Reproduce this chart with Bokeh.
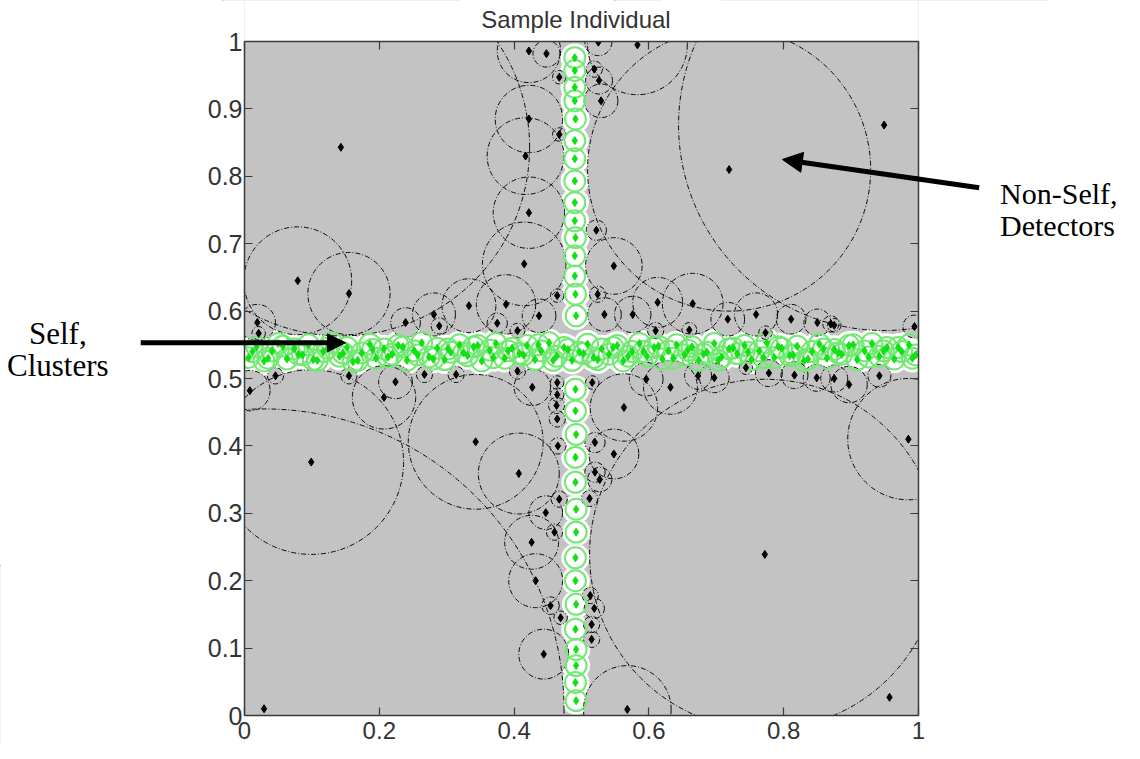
from bokeh.plotting import figure
from bokeh.models import (Range1d, LinearAxis, Label, Arrow, NormalHead,
                          FixedTicker, BoxAnnotation)
from bokeh.embed import file_html
from bokeh.resources import INLINE

# ---------------- data ----------------
x_ticks = [0, 0.2, 0.4, 0.6, 0.8, 1]
x_tick_labels = ["0", "0.2", "0.4", "0.6", "0.8", "1"]
y_ticks = [0, 0.1, 0.2, 0.3, 0.4, 0.5, 0.6, 0.7, 0.8, 0.9, 1]
y_tick_labels = ["0", "0.1", "0.2", "0.3", "0.4", "0.5", "0.6", "0.7", "0.8", "0.9", "1"]

# detectors (non-self): centre x, centre y, radius
det_x = [0.143, 0.079, 0.155, 0.019, 0.021, 0.239, 0.281, 0.289, 0.333, 0.388,
         0.375, 0.405, 0.437, 0.464, 0.415, 0.422, 0.417, 0.422, 0.467, 0.467,
         0.422, 0.448, 0.719, 0.949, 0.583, 0.525, 0.519, 0.526, 0.529, 0.522,
         0.548, 0.524, 0.534, 0.576, 0.613, 0.610, 0.665, 0.660, 0.717, 0.759,
         0.773, 0.811, 0.850, 0.870, 0.875, 0.994, 0.099, 0.029, 0.008, 0.046,
         0.155, 0.224, 0.207, 0.267, 0.314, 0.343, 0.407, 0.427, 0.405, 0.464,
         0.464, 0.463, 0.464, 0.465, 0.467, 0.447, 0.460, 0.426, 0.432, 0.454,
         0.469, 0.444, 0.516, 0.596, 0.632, 0.563, 0.673, 0.697, 0.744, 0.778,
         0.816, 0.849, 0.875, 0.897, 0.942, 0.985, 0.520, 0.548, 0.520, 0.527,
         0.512, 0.513, 0.519, 0.515, 0.515, 0.568, 0.957, 0.772]
det_y = [0.843, 0.645, 0.626, 0.583, 0.567, 0.583, 0.595, 0.578, 0.608, 0.610,
         0.582, 0.571, 0.593, 0.623, 0.670, 0.746, 0.830, 0.885, 0.862, 0.947,
         0.986, 0.982, 0.810, 0.876, 0.995, 0.999, 0.959, 0.942, 0.912, 0.720,
         0.667, 0.625, 0.595, 0.595, 0.613, 0.571, 0.611, 0.572, 0.588, 0.595,
         0.568, 0.588, 0.583, 0.581, 0.579, 0.577, 0.376, 0.010, 0.482, 0.504,
         0.504, 0.495, 0.472, 0.506, 0.506, 0.406, 0.359, 0.487, 0.511, 0.494,
         0.476, 0.460, 0.440, 0.400, 0.321, 0.301, 0.272, 0.257, 0.200, 0.163,
         0.145, 0.091, 0.494, 0.499, 0.487, 0.457, 0.504, 0.501, 0.516, 0.508,
         0.505, 0.501, 0.500, 0.491, 0.504, 0.410, 0.405, 0.388, 0.361, 0.350,
         0.322, 0.178, 0.159, 0.135, 0.113, 0.009, 0.027, 0.239]
det_r = [0.280, 0.080, 0.061, 0.027, 0.010, 0.022, 0.032, 0.012, 0.040, 0.044,
         0.015, 0.011, 0.025, 0.010, 0.062, 0.053, 0.057, 0.050, 0.010, 0.010,
         0.047, 0.020, 0.210, 0.305, 0.074, 0.020, 0.012, 0.020, 0.025, 0.015,
         0.042, 0.012, 0.025, 0.027, 0.037, 0.012, 0.045, 0.011, 0.025, 0.032,
         0.010, 0.022, 0.020, 0.012, 0.010, 0.017, 0.137, 0.445, 0.030, 0.012,
         0.012, 0.025, 0.047, 0.012, 0.012, 0.100, 0.060, 0.027, 0.012, 0.010,
         0.010, 0.012, 0.012, 0.012, 0.012, 0.025, 0.012, 0.040, 0.040, 0.013,
         0.010, 0.037, 0.010, 0.025, 0.040, 0.050, 0.020, 0.022, 0.010, 0.020,
         0.020, 0.020, 0.020, 0.027, 0.017, 0.090, 0.015, 0.037, 0.015, 0.018,
         0.012, 0.012, 0.015, 0.012, 0.012, 0.065, 0.000, 0.260]

# self samples, vertical cluster
self_v_x = [0.492, 0.491, 0.492, 0.492, 0.491, 0.492, 0.491, 0.491, 0.492, 0.492,
            0.491, 0.491, 0.492, 0.491, 0.491, 0.492, 0.491, 0.490, 0.490, 0.491,
            0.490, 0.490, 0.490, 0.490, 0.490, 0.491, 0.490, 0.490, 0.490, 0.490]
self_v_y = [0.022, 0.049, 0.074, 0.098, 0.128, 0.165, 0.200, 0.234, 0.272, 0.306,
            0.346, 0.383, 0.417, 0.452, 0.484, 0.593, 0.625, 0.652, 0.682, 0.709,
            0.734, 0.761, 0.793, 0.826, 0.853, 0.885, 0.912, 0.932, 0.957, 0.976]

# self samples, horizontal cluster (two interleaved passes)
self_h_x = [0.006, 0.018, 0.029, 0.041, 0.050, 0.063, 0.074, 0.086, 0.095, 0.108,
            0.117, 0.129, 0.141, 0.152, 0.161, 0.174, 0.186, 0.195, 0.207, 0.219,
            0.228, 0.241, 0.252, 0.263, 0.274, 0.286, 0.297, 0.306, 0.319, 0.331,
            0.340, 0.352, 0.364, 0.373, 0.386, 0.397, 0.408, 0.419, 0.431, 0.440,
            0.452, 0.463, 0.474, 0.486, 0.497, 0.509, 0.518, 0.530, 0.541, 0.553,
            0.562, 0.575, 0.586, 0.597, 0.608, 0.620, 0.629, 0.641, 0.653, 0.664,
            0.674, 0.686, 0.697, 0.708, 0.719, 0.731, 0.742, 0.752, 0.764, 0.775,
            0.786, 0.797, 0.809, 0.820, 0.830, 0.842, 0.853, 0.864, 0.875, 0.886,
            0.897, 0.909, 0.920, 0.931, 0.942, 0.953, 0.964, 0.975, 0.986, 0.996]
self_h_y = [0.531, 0.547, 0.526, 0.541, 0.552, 0.529, 0.544, 0.535, 0.550, 0.527,
            0.540, 0.553, 0.533, 0.546, 0.525, 0.538, 0.551, 0.530, 0.544, 0.536,
            0.549, 0.527, 0.541, 0.553, 0.532, 0.545, 0.528, 0.539, 0.550, 0.534,
            0.547, 0.526, 0.542, 0.552, 0.530, 0.545, 0.537, 0.549, 0.528, 0.541,
            0.553, 0.533, 0.546, 0.527, 0.539, 0.551, 0.531, 0.544, 0.536, 0.549,
            0.526, 0.540, 0.552, 0.533, 0.546, 0.529, 0.541, 0.550, 0.535, 0.547,
            0.527, 0.539, 0.552, 0.532, 0.544, 0.537, 0.549, 0.528, 0.541, 0.553,
            0.531, 0.545, 0.534, 0.548, 0.526, 0.540, 0.551, 0.530, 0.543, 0.536,
            0.549, 0.528, 0.541, 0.552, 0.533, 0.546, 0.529, 0.540, 0.550, 0.535]
self_h2_x = [0.012, 0.035, 0.057, 0.080, 0.102, 0.123, 0.146, 0.168, 0.190, 0.213,
             0.235, 0.257, 0.280, 0.302, 0.325, 0.346, 0.369, 0.391, 0.414, 0.436,
             0.458, 0.480, 0.503, 0.524, 0.547, 0.569, 0.592, 0.614, 0.636, 0.658,
             0.681, 0.703, 0.725, 0.747, 0.770, 0.792, 0.814, 0.836, 0.859, 0.881,
             0.903, 0.926, 0.948, 0.970, 0.991]
self_h2_y = [0.540, 0.530, 0.548, 0.536, 0.528, 0.545, 0.538, 0.527, 0.543, 0.532,
             0.547, 0.535, 0.529, 0.544, 0.538, 0.549, 0.531, 0.541, 0.535, 0.550,
             0.527, 0.543, 0.537, 0.528, 0.546, 0.533, 0.540, 0.548, 0.530, 0.542,
             0.536, 0.527, 0.545, 0.539, 0.531, 0.547, 0.535, 0.529, 0.544, 0.538,
             0.550, 0.532, 0.541, 0.546, 0.530]

title_text = "Sample Individual"
self_label = ["Self,", "Clusters"]
nonself_label = ["Non-Self,", "Detectors"]

# ---------------- figure ----------------
# The frame covers the whole canvas so that the outside notes and arrows are
# not clipped; the unit square is positioned through the ranges.
W, H = 1124, 743
PX = 674.0                      # pixels per data unit
X0, Y1 = 244.0, 41.0            # canvas position of x=0 and y=1
xr = Range1d(-X0 / PX, (W - X0) / PX)
yr = Range1d(1 - (H - Y1) / PX, 1 + Y1 / PX)

GRAY = "#c3c3c3"
p = figure(width=W, height=H, x_range=xr, y_range=yr,
           output_backend="svg", toolbar_location=None,
           min_border=0, background_fill_color="white",
           border_fill_color="white", outline_line_color=None)
p.grid.visible = False

p.add_layout(BoxAnnotation(left=0, right=1, bottom=0, top=1, fill_color=GRAY,
                           fill_alpha=1.0, line_color=None, level="underlay"))

all_x = self_v_x + self_h_x + self_h2_x
all_y = self_v_y + self_h_y + self_h2_y

# white clearing around self samples
p.circle(x=all_x, y=all_y, radius=0.021, fill_color="white", line_color=None)
# detector coverage (gray fill)
p.circle(x=det_x, y=det_y, radius=det_r, fill_color=GRAY, line_color=None)
# detector outlines
p.circle(x=det_x, y=det_y, radius=det_r, fill_color=None, line_color="black",
         line_width=1, line_dash="5 2 1 2", line_alpha=0.95)
# self rings and centres
p.circle(x=all_x, y=all_y, radius=0.0155, fill_color=None, line_color="#74e874",
         line_width=2)
p.scatter(x=all_x, y=all_y, marker="diamond", size=8, fill_color="#12e012",
          line_color="#12e012")
# detector centres
p.scatter(x=det_x, y=det_y, marker="diamond", size=8, fill_color="black",
          line_color="black")

# white masks outside the unit square (the axes box clips the circles)
FAR = 3.0
p.quad(left=[-FAR, 1, 0, 0], right=[0, FAR, 1, 1],
       bottom=[-FAR, -FAR, 1, -FAR], top=[FAR, FAR, FAR, 0],
       fill_color="white", line_color=None)

# axes, MATLAB-like (ticks inside, mirrored box)
def style_axis(ax, ticks, labels, show_labels, loc, standoff, size):
    ax.fixed_location = loc
    ax.bounds = (0, 1)
    ax.ticker = FixedTicker(ticks=ticks)
    ax.major_label_overrides = {t: l for t, l in zip(ticks, labels)}
    ax.major_tick_in = 8
    ax.major_tick_out = 0
    ax.minor_tick_in = 0
    ax.minor_tick_out = 0
    ax.axis_line_color = "#3a3a3a"
    ax.axis_line_width = 1.5
    ax.major_tick_line_color = "#3a3a3a"
    ax.major_tick_line_width = 1.2
    ax.major_label_text_font = "Liberation Sans"
    ax.major_label_text_font_size = size
    ax.major_label_text_color = "#333333" if show_labels else None
    ax.major_label_standoff = standoff

style_axis(p.xaxis[0], x_ticks, x_tick_labels, True, 0, 6, "24px")
style_axis(p.yaxis[0], y_ticks, y_tick_labels, True, 0, 2, "25px")
top = LinearAxis()
right = LinearAxis()
style_axis(top, x_ticks, x_tick_labels, False, 1, 5, "24px")
style_axis(right, y_ticks, y_tick_labels, False, 1, 5, "24px")
p.add_layout(top, "above")
p.add_layout(right, "right")

# title
p.add_layout(Label(x=0.4918, y=1 + 22.0 / PX, text=title_text, text_align="center",
                   text_baseline="alphabetic", text_font="Liberation Sans",
                   text_font_size="24px", text_color="#333333"))

# annotations outside the axes
for txt, yy in zip(self_label, [0.567, 0.519]):
    p.add_layout(Label(x=-0.277, y=yy, text=txt, text_align="center",
                       text_baseline="middle", text_font="Liberation Serif",
                       text_font_size="31px", text_color="black"))
for txt, yy in zip(nonself_label, [0.774, 0.727]):
    p.add_layout(Label(x=1.121, y=yy, text=txt, text_align="left",
                       text_baseline="middle", text_font="Liberation Serif",
                       text_font_size="30px", text_color="black"))

p.add_layout(Arrow(end=NormalHead(size=18, fill_color="black", line_color="black"),
                   x_start=-0.154, y_start=0.553, x_end=0.150, y_end=0.553,
                   line_width=5, line_color="black"))
p.add_layout(Arrow(end=NormalHead(size=20, fill_color="black", line_color="black"),
                   x_start=1.09, y_start=0.783, x_end=0.798, y_end=0.825,
                   line_width=5, line_color="black"))

open("out.html", "w").write(file_html(p, INLINE))
